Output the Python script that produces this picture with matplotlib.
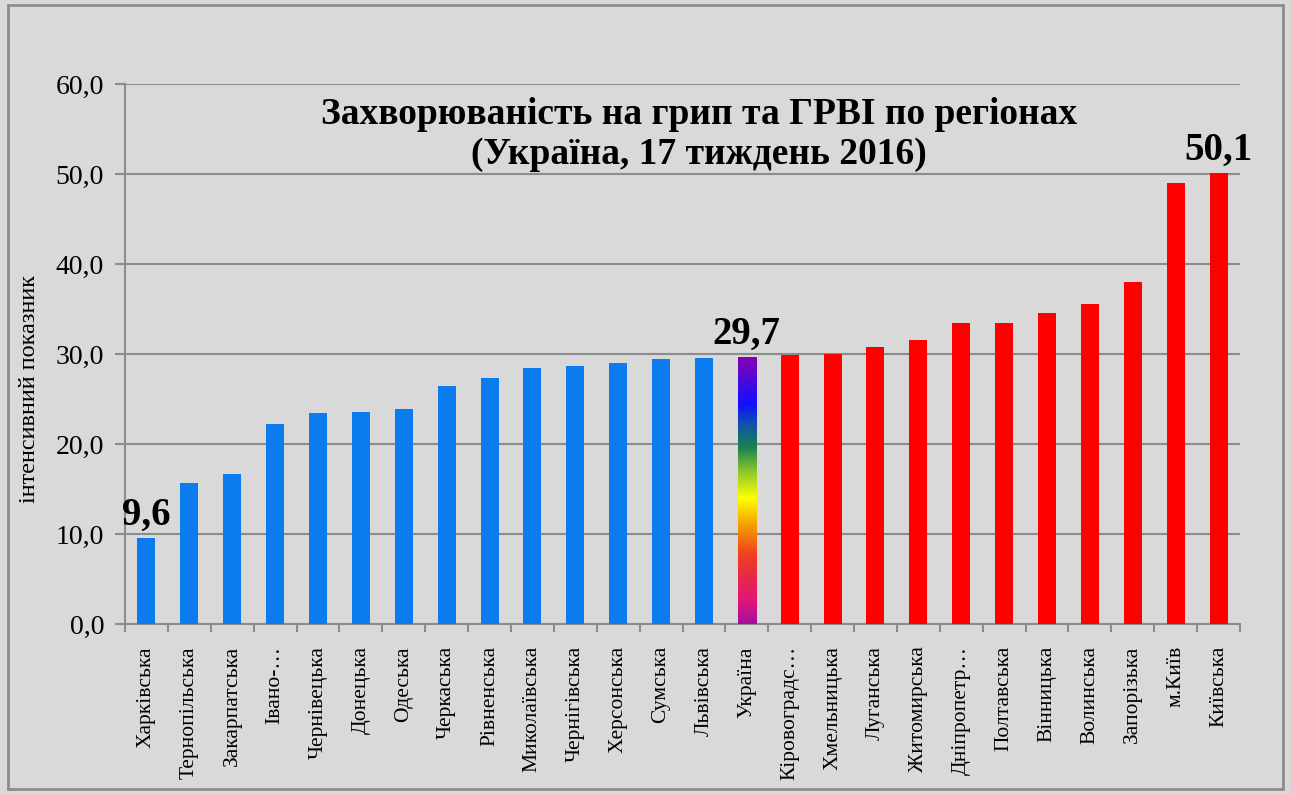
#!/usr/bin/env python3
""" Flu incidence by region """
import numpy as np
import matplotlib.pyplot as plt
from matplotlib.colors import LinearSegmentedColormap

regions = ['Харківська', 'Тернопільська', 'Закарпатська', 'Івано-…',
           'Чернівецька', 'Донецька', 'Одеська', 'Черкаська', 'Рівненська',
           'Миколаївська', 'Чернігівська', 'Херсонська', 'Сумська',
           'Львівська', 'Україна', 'Кіровоградс…', 'Хмельницька',
           'Луганська', 'Житомирська', 'Дніпропетр…', 'Полтавська',
           'Вінницька', 'Волинська', 'Запорізька', 'м.Київ', 'Київська']
values = [9.6, 15.7, 16.7, 22.2, 23.4, 23.6, 23.9, 26.4, 27.3, 28.4, 28.7,
          29.0, 29.4, 29.6, 29.7, 29.9, 30.0, 30.8, 31.6, 33.4, 33.4, 34.6,
          35.6, 38.0, 49.0, 50.1]
labelled = {'Харківська': '9,6', 'Україна': '29,7', 'Київська': '50,1'}
yticks = np.arange(0, 61, 10)

plt.rcParams['font.family'] = ['Liberation Serif', 'DejaVu Serif']
bg = '#d9d9d9'
grey = '#8c8c8c'

fig = plt.figure(figsize=(12.91, 7.94), dpi=100, facecolor=bg)
fig.patches.append(plt.Rectangle((0.006, 0.006), 0.988, 0.988,
                                 transform=fig.transFigure, fill=False,
                                 edgecolor=grey, linewidth=2))
ax = fig.add_axes([125 / 1291, 1 - 624 / 794, 1115 / 1291, 540 / 794])
ax.set_facecolor(bg)

x = np.arange(len(regions))
ukr = regions.index('Україна')
colors = ['#0a7cf0' if i < ukr else '#ff0000' for i in range(len(regions))]
bars = ax.bar(x, values, width=0.42, color=colors, zorder=3)

# rainbow fill for the national bar
rainbow = LinearSegmentedColormap.from_list('rb', [
    (0.0, '#a010a0'), (0.08, '#e0147a'), (0.17, '#e82848'),
    (0.26, '#f04020'), (0.37, '#f5a000'), (0.47, '#ffff00'),
    (0.58, '#80c030'), (0.66, '#1a8050'), (0.75, '#1050b0'),
    (0.82, '#1010ff'), (1.0, '#8a00b4')])
b = bars[ukr]
bx, bw, bh = b.get_x(), b.get_width(), b.get_height()
b.set_facecolor('none')
grad = np.linspace(0, 1, 256).reshape(-1, 1)
im = ax.imshow(grad, cmap=rainbow, origin='lower', aspect='auto',
               extent=(bx, bx + bw, 0, bh), zorder=3)
im.set_clip_path(b)

ax.set_xlim(-0.5, len(regions) - 0.5)
ax.set_ylim(0, 60)
ax.set_yticks(yticks)
ax.set_yticklabels([f'{v:.1f}'.replace('.', ',') for v in yticks],
                   fontsize=20)
ax.yaxis.grid(True, color=grey, linewidth=1.5, zorder=0)
ax.set_axisbelow(True)
ax.set_xticks(x)
ax.set_xticklabels(regions, rotation=90, fontsize=15.5, va='top')
ax.set_xticks(np.arange(-0.5, len(regions)), minor=True)
ax.tick_params(axis='x', which='major', length=0, pad=16)
ax.tick_params(axis='x', which='minor', length=6, color=grey, width=1.5)
ax.tick_params(axis='y', length=7, color=grey, width=1.5, pad=8)
for side in ['top', 'right']:
    ax.spines[side].set_visible(False)
for side in ['left', 'bottom']:
    ax.spines[side].set_color(grey)
    ax.spines[side].set_linewidth(1.5)

ax.set_ylabel('інтенсивний показник', fontsize=17.5, labelpad=10)
ax.yaxis.set_label_coords(-0.076, 0.435)

for name, txt in labelled.items():
    i = regions.index(name)
    ax.annotate(txt, (x[i], values[i]), xytext=(0, 3),
                textcoords='offset points', ha='center', va='bottom',
                fontsize=28, fontweight='bold', zorder=5)

ax.text(0.515, 0.975, 'Захворюваність на грип та ГРВІ по регіонах\n'
        '(Україна, 17 тиждень 2016)', transform=ax.transAxes,
        ha='center', va='top', fontsize=27, fontweight='bold',
        linespacing=1.15)

plt.savefig('out.png', dpi=100, facecolor=bg)
